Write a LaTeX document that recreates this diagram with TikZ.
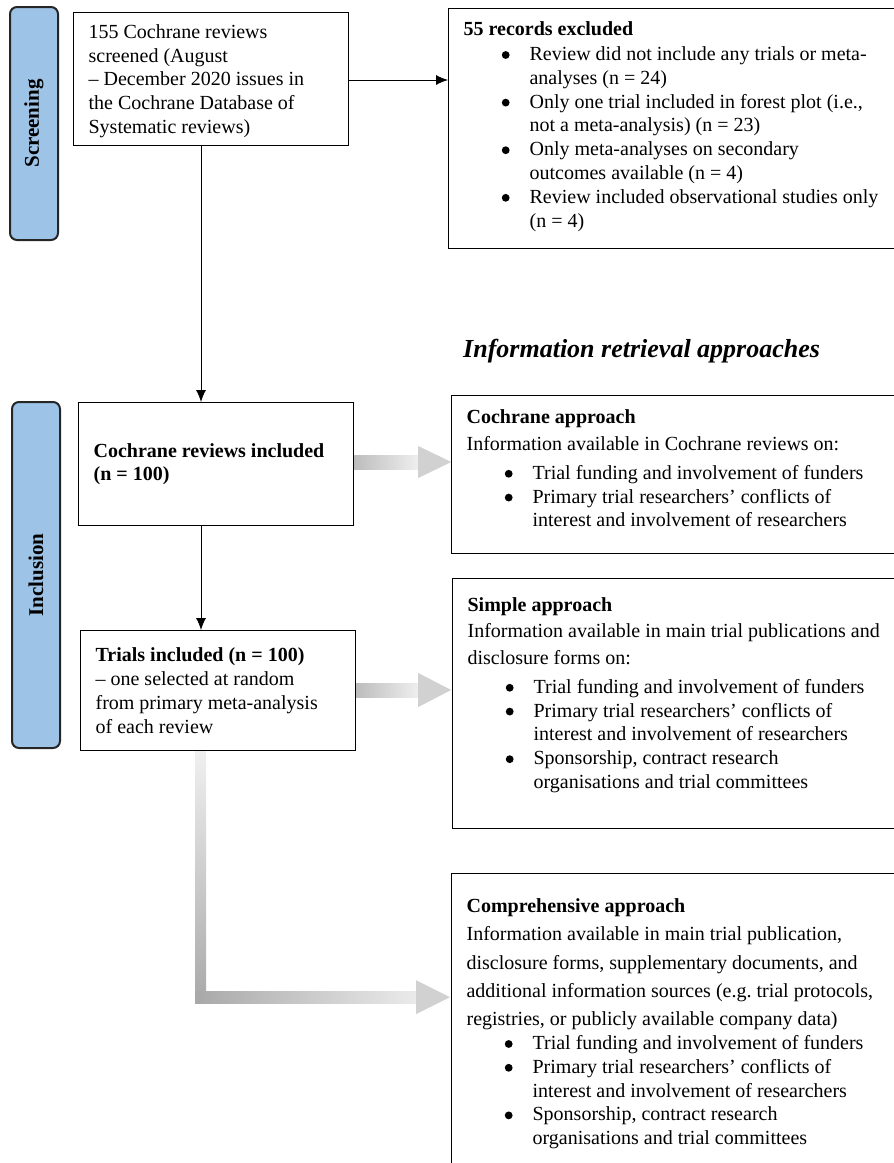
\documentclass[tikz,border=0pt]{standalone}
\usepackage{fontspec}
\setmainfont{Liberation Serif}
\usetikzlibrary{calc,arrows.meta}
\definecolor{labblue}{RGB}{157,195,230}
\newcommand{\bul}{\tikz[baseline={(0pt,-5.5pt)}]\fill (0pt,0pt) circle (3.9pt);}
\newenvironment{blist}{\begin{list}{\bul}{\setlength\leftmargin{66pt}\setlength\labelsep{20pt}\setlength\labelwidth{12pt}\setlength\itemsep{0pt}\setlength\parsep{0pt}\setlength\topsep{0pt}\setlength\partopsep{0pt}\setlength\itemindent{0pt}}}{\end{list}}
\newcommand{\bodyfont}{\fontsize{20}{23.8}\selectfont}
\newcommand{\parafont}{\fontsize{20}{26.5}\selectfont}
\frenchspacing
\begin{document}
\begin{tikzpicture}[x=1pt,y=-1pt]
\tikzset{
 box/.style={draw, line width=1.2pt, rectangle, inner xsep=15pt, inner ysep=0pt, anchor=north west, font=\bodyfont, align=left},
 lab/.style={draw=black!85, line width=2pt, rounded corners=7pt, fill=labblue, inner sep=0pt, rotate=90, font=\fontsize{21}{24}\selectfont\bfseries},
 arr/.style={line width=0.9pt, -{Latex[length=12pt,width=10pt]}},
 gbody/.style={draw=none},
 ghead/.style={fill=black!18, draw=none},
}
\useasboundingbox (0,0) rectangle (894,1163);
\clip (0,0) rectangle (894,1163);

% phase labels
\node[lab, minimum width=233pt, minimum height=48pt] (scr) at (34,123.5) {Screening};
\node[lab, minimum width=346pt, minimum height=48pt] (inc) at (36,575) {Inclusion};

% left boxes
\node[box] (b1) at (73,12) {\parbox[c][133pt][c]{245pt}{\raggedright\bodyfont\vspace*{4pt}155 Cochrane reviews\\ screened (August\\ – December 2020 issues in\\ the Cochrane Database of\\ Systematic reviews)}};
\node[box] (b2) at (78,402) {\parbox[c][123pt][c]{245pt}{\raggedright\bodyfont\bfseries Cochrane reviews included\\ (n = 100)}};
\node[box] (b3) at (80,630) {\parbox[c][120pt][c]{245pt}{\raggedright\bodyfont\textbf{Trials included (n = 100)}\\ – one selected at random\\ from primary meta-analysis\\ of each review}};

% excluded
\node[box] (ex) at (448,8) {\parbox[c][240pt][c]{427pt}{\raggedright\bodyfont\textbf{55 records excluded}\par
\vspace{1pt}
\begin{blist}
\item Review did not include any trials or meta-\\analyses (n = 24)
\item Only one trial included in forest plot (i.e.,\\ not a meta-analysis) (n = 23)
\item Only meta-analyses on secondary\\ outcomes available (n = 4)
\item Review included observational studies only\\ (n = 4)
\end{blist}\vspace*{4pt}}};

\node[anchor=base west, font=\fontsize{26}{30}\selectfont\bfseries\itshape, inner sep=0pt] (irt) at (463,357) {Information retrieval approaches};

% approach boxes
\node[box] (ca) at (451,395) {\parbox[c][158pt][t]{430pt}{\raggedright\vspace*{14pt}\fontsize{20}{27}\selectfont\textbf{Cochrane approach}\\ Information available in Cochrane reviews on:\par
\vspace{5pt}\bodyfont
\begin{blist}
\item Trial funding and involvement of funders
\item Primary trial researchers’ conflicts of\\ interest and involvement of researchers
\end{blist}}};

\node[box] (sa) at (452,578) {\parbox[c][250pt][t]{430pt}{\raggedright\vspace*{19pt}\parafont\textbf{Simple approach}\\ Information available in main trial publications and\\ disclosure forms on:\par
\vspace{5pt}\bodyfont
\begin{blist}
\item Trial funding and involvement of funders
\item Primary trial researchers’ conflicts of\\ interest and involvement of researchers
\item Sponsorship, contract research\\ organisations and trial committees
\end{blist}}};

\node[box] (co) at (451,873) {\parbox[c][310pt][t]{430pt}{\raggedright\vspace*{25pt}\fontsize{20}{28.3}\selectfont\textbf{Comprehensive approach}\\ Information available in main trial publication,\\ disclosure forms, supplementary documents, and\\ additional information sources (e.g. trial protocols,\\ registries, or publicly available company data)\par
\vspace{0pt}\bodyfont
\begin{blist}
\item Trial funding and involvement of funders
\item Primary trial researchers’ conflicts of\\ interest and involvement of researchers
\item Sponsorship, contract research\\ organisations and trial committees
\end{blist}}};

% black connectors
\coordinate (v) at (201,0);
\draw[arr] (b1.east |- 0,80) -- (ex.west |- 0,80);
\draw[arr] (b1.south -| v) -- (b2.north -| v);
\draw[arr] (b2.south -| v) -- (b3.north -| v);

% grey arrows
\begin{scope}[shift={(b2.east |- 0,462)}]
 \shade[gbody, left color=black!26, right color=black!6] (0,-7) rectangle (65,7);
 \fill[ghead] (64,-16) -- (97,0) -- (64,16) -- cycle;
\end{scope}
\begin{scope}[shift={(b3.east |- 0,690)}]
 \shade[gbody, left color=black!26, right color=black!6] (0,-7) rectangle (63,7);
 \fill[ghead] (62,-17) -- (95,0) -- (62,17) -- cycle;
\end{scope}
\begin{scope}[shift={(b3.south -| v)}]
 \shade[gbody, top color=black!6, bottom color=black!34] (-6,0) rectangle (5,252);
 \shade[gbody, left color=black!34, right color=black!8] (-6,240) rectangle (216,252);
 \fill[ghead] (215,229) -- (249,246) -- (215,263) -- cycle;
\end{scope}
\end{tikzpicture}
\end{document}
